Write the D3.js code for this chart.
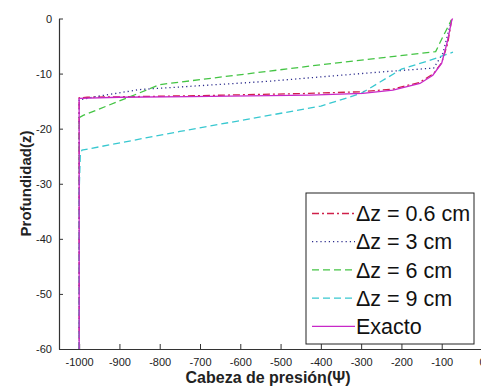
<!DOCTYPE html>
<html>
<head>
<meta charset="utf-8">
<script src="https://cdn.jsdelivr.net/npm/d3@7"></script>
<style>
  body { margin: 0; background: #fff; }
  text { font-family: Arial, "Liberation Sans", sans-serif; }
</style>
</head>
<body>
<div id="chart"></div>
<script>
// Data: [psi, z]
const exacto = [[-1000,-60],[-1000,-14.5],[-900,-14.3],[-725,-14.2],[-427,-13.9],[-296,-13.6],[-221,-13.0],[-154,-11.8],[-122,-10.3],[-100,-8.1],[-87,-4.5],[-75,-0.3],[-73,0]];
const dz06 = [[-1000,-60],[-1000,-14.4],[-980,-14.3],[-700,-14.0],[-430,-13.6],[-300,-13.3],[-220,-12.8],[-155,-11.6],[-120,-10],[-100,-8],[-85,-4.5],[-75,0]];
const dz3 = [[-1000,-60],[-1000,-14.8],[-960,-14.2],[-850,-12.9],[-530,-11.4],[-400,-10.6],[-250,-9.7],[-120,-9.0],[-97,-6.3],[-75,0]];
const dz6 = [[-1000,-60],[-1000,-18],[-990,-17.6],[-850,-13.5],[-800,-12],[-400,-8.4],[-115,-6],[-95,-3],[-76,-0.3]];
const dz9 = [[-1000,-60],[-1000,-31.5],[-997,-24.5],[-993,-23.9],[-750,-20.5],[-400,-15.9],[-300,-13.6],[-200,-9.2],[-130,-7.6],[-72,-6.1]];

const xTicks = [-1000,-900,-800,-700,-600,-500,-400,-300,-200,-100,0];
const yTicks = [0,-10,-20,-30,-40,-50,-60];

const series = [
  {name: '\u0394z = 0.6 cm', data: dz06, color: '#d0204a', dash: '7,3,2,3'},
  {name: '\u0394z = 3 cm', data: dz3, color: '#2b2b8c', dash: '1.2,3'},
  {name: '\u0394z = 6 cm', data: dz6, color: '#44c444', dash: '7,4'},
  {name: '\u0394z = 9 cm', data: dz9, color: '#38c8d0', dash: '7,4'},
  {name: 'Exacto', data: exacto, color: '#c828c8', dash: null}
];

const W = 481, H = 387;
const margin = {left: 59, right: -1, top: 18.5, bottom: 38};

const svg = d3.select('#chart').append('svg')
  .attr('width', W).attr('height', H);

const x = d3.scaleLinear().domain([-1050, 0]).range([margin.left, W - margin.right]);
const y = d3.scaleLinear().domain([-60, 0]).range([H - margin.bottom, margin.top]);

// Axes (plain hyphen minus like the original)
const xAxis = svg.append('g')
  .attr('transform', `translate(0,${H - margin.bottom})`)
  .call(d3.axisBottom(x).tickValues(xTicks).tickFormat(d => String(d))
    .tickSizeInner(-5).tickSizeOuter(0).tickPadding(9));
const yAxis = svg.append('g')
  .attr('transform', `translate(${margin.left},0)`)
  .call(d3.axisLeft(y).tickValues(yTicks).tickFormat(d => String(d))
    .tickSizeInner(-4).tickSizeOuter(0).tickPadding(7));

[xAxis, yAxis].forEach(a => {
  a.select('.domain').attr('stroke', '#333').attr('stroke-width', 1.2);
  a.selectAll('.tick line').attr('stroke', '#333');
  a.selectAll('.tick text').attr('fill', '#222').style('font-size', '11px')
    .style('font-family', 'Arial, "Liberation Sans", sans-serif');
});

// Lines
const line = d3.line().x(d => x(d[0])).y(d => y(d[1]));
svg.append('g').selectAll('path')
  .data(series)
  .join('path')
  .attr('d', d => line(d.data))
  .attr('fill', 'none')
  .attr('stroke', d => d.color)
  .attr('stroke-width', 1.3)
  .attr('stroke-dasharray', d => d.dash);

// Axis titles
svg.append('text')
  .attr('x', 268).attr('y', 383)
  .attr('text-anchor', 'middle')
  .style('font-size', '16px').style('font-weight', 'bold').attr('fill', '#222')
  .text('Cabeza de presi\u00f3n(\u03a8)');
svg.append('text')
  .attr('transform', 'translate(31,183.5) rotate(-90)')
  .attr('text-anchor', 'middle')
  .style('font-size', '15px').style('font-weight', 'bold').attr('fill', '#222')
  .text('Profundidad(z)');

// Legend
const legend = svg.append('g').attr('transform', 'translate(306,193)');
legend.append('rect')
  .attr('width', 168).attr('height', 151)
  .attr('fill', '#fff').attr('stroke', '#222').attr('stroke-width', 1);
const rows = legend.selectAll('.row')
  .data(series)
  .join('g')
  .attr('class', 'row')
  .attr('transform', (d, i) => `translate(0,${20.5 + i * 28.2})`);
rows.append('line')
  .attr('x1', 6).attr('x2', 49)
  .attr('stroke', d => d.color).attr('stroke-width', 1.3)
  .attr('stroke-dasharray', d => d.dash);
rows.append('text')
  .attr('x', 50).attr('dy', '0.36em')
  .style('font-size', '21.5px').attr('fill', '#111')
  .text(d => d.name);
</script>
</body>
</html>
